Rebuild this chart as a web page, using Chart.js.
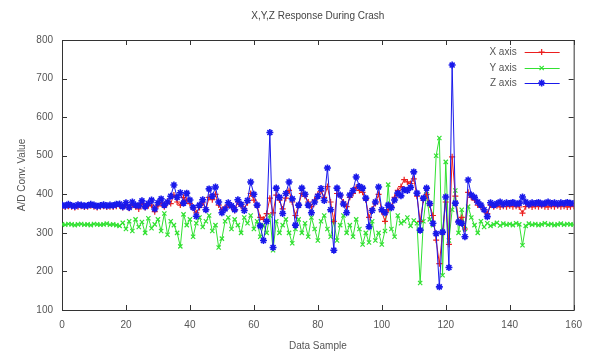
<!DOCTYPE html>
<html>
<head>
<meta charset="utf-8">
<script src="https://cdn.jsdelivr.net/npm/chart.js@4/dist/chart.umd.min.js"></script>
<style>
  body { margin: 0; background: #fff; }
  #wrap { width: 591px; height: 355px; position: relative; }
  #crash-chart { filter: blur(0.4px); }
</style>
</head>
<body>
<div id="wrap"><canvas id="crash-chart"></canvas></div>
<script>
const chartTitle = "X,Y,Z Response During Crash";
const xTitle = "Data Sample";
const yTitle = "A/D Conv. Value";
const seriesNames = ["X axis", "Y axis", "Z axis"];

const xAxis = [
    368,367,369,368,366,368,369,367,368,370,368,366,368,369,367,368,367,369,
    370,366,372,364,374,368,362,376,366,370,372,355,
    370,378,368,382,376,
    398,380,372,392,384,376,364,352,366,378,360,392,386,400,372,
    360,366,372,368,358,380,370,362,378,402,385,370,340,335,350,
    390,352,398,385,362,390,410,380,345,372,402,395,380,368,385,
    400,408,392,420,380,330,402,396,380,368,392,402,418,410,405,
    386,340,362,376,400,355,330,360,368,392,410,420,438,432,428,
    440,395,330,385,400,372,345,281,220,300,380,270,497,395,330,
    340,310,405,392,385,372,368,360,350,372,368,370,367,369,368,
    370,368,369,367,351,368,370,367,369,368,370,368,367,369,368,
    370,368,369,367,368,369
];

const yAxis = [
    322,321,323,322,320,322,323,321,322,320,323,322,321,322,324,321,322,320,
    318,326,310,330,305,335,315,328,300,338,312,322,
    335,305,350,295,330,
    320,300,265,348,320,335,290,325,340,315,330,345,305,320,262,
    285,330,340,310,335,320,300,340,325,345,310,330,290,320,300,
    345,255,330,300,320,335,300,273,310,335,300,325,290,340,310,
    280,330,345,310,290,330,280,320,345,300,320,290,335,310,270,
    300,275,330,280,300,270,305,425,310,290,345,325,330,340,318,
    332,325,170,330,400,335,320,500,546,190,484,280,360,410,300,
    360,310,368,340,320,300,330,315,325,318,322,326,319,324,321,
    323,320,325,322,268,318,324,321,323,320,322,325,321,323,320,
    322,324,321,323,322,321
];

const zAxis = [
    372,370,374,371,369,373,372,370,371,374,372,369,371,373,370,372,371,374,
    375,368,378,366,380,372,370,383,368,376,385,362,
    378,388,372,380,395,
    424,392,404,377,403,385,366,343,372,386,360,414,395,419,380,
    352,362,378,370,360,386,374,358,384,432,400,372,318,280,330,
    560,262,416,392,350,402,432,388,320,372,416,400,372,352,380,
    395,415,384,468,360,255,416,398,375,352,398,410,445,420,416,
    390,316,358,380,419,360,352,372,365,385,403,396,412,410,418,
    458,403,307,390,416,376,325,298,160,302,393,210,735,377,328,
    325,290,437,398,392,380,372,360,342,378,372,376,380,374,378,
    376,379,375,377,393,380,374,378,376,379,375,377,380,376,378,
    375,378,376,379,377,376
];

const samples = zAxis.map((_, i) => i);

const labelFont = { family: "'Liberation Sans', Arial, sans-serif", size: 10 };
const textColor = "#555";

function toPoints(values) {
    return values.map((v, i) => ({ x: samples[i], y: v }));
}

function makeDataset(name, values, color, style, radius, width, order) {
    return {
        label: name,
        data: toPoints(values),
        borderColor: color,
        backgroundColor: color,
        borderWidth: 1,
        pointStyle: style,
        pointRadius: radius,
        pointBorderWidth: width,
        pointBorderColor: color,
        tension: 0,
        order: order
    };
}

// gnuplot style: framed box, inward ticks on all sides, legend top right
const gnuplotLook = {
    id: "gnuplotLook",
    beforeDatasetsDraw(chart) {
        const { ctx, chartArea: a, scales: { x, y } } = chart;
        ctx.save();
        ctx.strokeStyle = "#333";
        ctx.lineWidth = 1;
        ctx.strokeRect(a.left + 0.5, a.top + 0.5, a.right - a.left, a.bottom - a.top);
        ctx.beginPath();
        for (const t of x.ticks) {
            const px = Math.round(x.getPixelForValue(t.value)) + 0.5;
            ctx.moveTo(px, a.bottom); ctx.lineTo(px, a.bottom - 5);
            ctx.moveTo(px, a.top); ctx.lineTo(px, a.top + 5);
        }
        for (const t of y.ticks) {
            const py = Math.round(y.getPixelForValue(t.value)) + 0.5;
            ctx.moveTo(a.left, py); ctx.lineTo(a.left + 5, py);
            ctx.moveTo(a.right, py); ctx.lineTo(a.right - 5, py);
        }
        ctx.stroke();
        ctx.restore();
    },
    afterDraw(chart) {
        const { ctx, chartArea: a } = chart;
        ctx.save();
        ctx.font = "10px 'Liberation Sans', Arial, sans-serif";
        ctx.fillStyle = "#444";
        ctx.textAlign = "center";
        ctx.textBaseline = "middle";
        ctx.fillText(chartTitle, (a.left + a.right) / 2, 16);

        const rows = [52, 68, 83];
        chart.data.datasets.forEach((ds, i) => {
            const ry = rows[i];
            ctx.fillStyle = textColor;
            ctx.textAlign = "right";
            ctx.fillText(ds.label, a.right - 57, ry);
            ctx.strokeStyle = ds.borderColor;
            ctx.fillStyle = ds.borderColor;
            ctx.lineWidth = 1;
            ctx.beginPath();
            ctx.moveTo(a.right - 49, ry + 0.5);
            ctx.lineTo(a.right - 14, ry + 0.5);
            ctx.stroke();
            ctx.lineWidth = ds.pointBorderWidth;
            Chart.helpers.drawPoint(ctx, {
                pointStyle: ds.pointStyle, radius: ds.pointRadius, rotation: 0, borderWidth: ds.pointBorderWidth
            }, a.right - 32, ry);
        });
        ctx.restore();
    }
};

new Chart(document.getElementById("crash-chart"), {
    type: "line",
    data: {
        datasets: [
            makeDataset(seriesNames[0], xAxis, "rgb(235,30,30)", "cross", 3, 1.2, 1),
            makeDataset(seriesNames[1], yAxis, "rgb(50,225,50)", "crossRot", 3, 1.2, 2),
            makeDataset(seriesNames[2], zAxis, "rgb(25,25,235)", "star", 3.5, 1.6, 0)
        ]
    },
    options: {
        responsive: true,
        maintainAspectRatio: false,
        animation: false,
        layout: { padding: { top: 40, right: 11, left: 0, bottom: 0 } },
        plugins: {
            legend: { display: false },
            title: { display: false },
            tooltip: { enabled: false }
        },
        scales: {
            x: {
                type: "linear",
                min: 0,
                max: 160,
                grid: { display: false, drawTicks: false },
                border: { display: false },
                ticks: { stepSize: 20, padding: 9, color: textColor, font: labelFont, maxRotation: 0 },
                title: { display: true, text: xTitle, color: textColor, font: labelFont, padding: { top: 0, bottom: 3 } },
                afterFit: s => { s.height = 45; }
            },
            y: {
                min: 100,
                max: 800,
                grid: { display: false, drawTicks: false },
                border: { display: false },
                ticks: { stepSize: 100, padding: 9, color: textColor, font: labelFont },
                title: { display: true, text: yTitle, color: textColor, font: labelFont, padding: { top: 16, bottom: 0 } },
                afterFit: s => { s.width = 62; }
            }
        }
    },
    plugins: [gnuplotLook]
});
</script>
</body>
</html>
